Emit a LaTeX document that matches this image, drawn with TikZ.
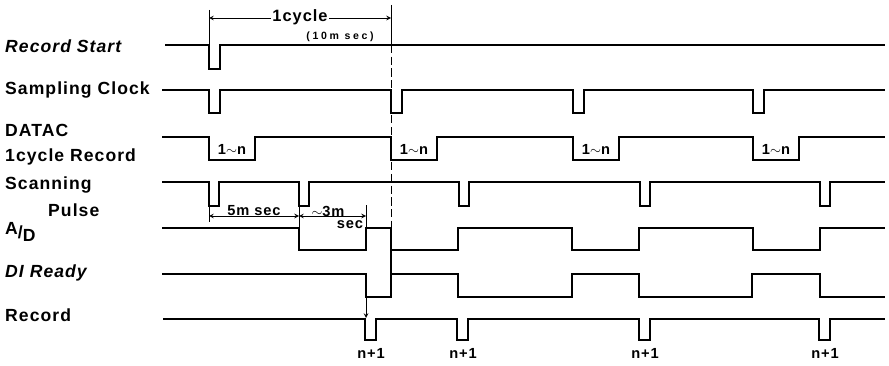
\documentclass[tikz,border=0pt]{standalone}
\usepackage{fontspec}
\setmainfont{Liberation Sans}
\newfontfamily\sigfont[LetterSpace=6]{Liberation Sans}
\newfontfamily\widefont[LetterSpace=25]{Liberation Sans}

\begin{document}
\begin{tikzpicture}[x=0.03cm, y=-0.03cm, >=stealth,
    wave/.style={line width=1.7pt},
    sig/.style={anchor=west, inner sep=0pt, font=\fontsize{15}{17}\sigfont\bfseries},
    tag/.style={inner sep=1pt, font=\fontsize{12.5}{14}\sigfont\bfseries}]
    \useasboundingbox (0,0) rectangle (889,366);

    % Signalnamen
    \node[sig] (rstart) at (5,46) {\itshape Record Start};
    \node[sig] (sclock) at (5,90) {Sampling Clock};
    \node[sig] (datac) at (5,130) {DATAC};
    \node[sig] (crec) at (5,157) {1cycle Record};
    \node[sig] (scan) at (5,185) {Scanning};
    \node[sig] (pulse) at (48,210) {Pulse};
    \node[sig] (ad) at (5,232) {\raisebox{3pt}{A}/\raisebox{-3pt}{D}};
    \node[sig] (dirdy) at (5,273) {\itshape DI Ready};
    \node[sig] (rec) at (5,315) {Record};

    % Record Start
    \draw[wave] (165,45) -- (209,45) -- (209,69) -- (220,69) -- (220,45) -- (885,45);
    % Sampling Clock
    \draw[wave] (162,90) \foreach \p in {209,391,573,753} {
        -- (\p,90) -- (\p,113) -- (\p+11,113) -- (\p+11,90)} -- (885,90);
    % DATAC 1cycle Record
    \draw[wave] (162,137) \foreach \p in {209,391,573,753} {
        -- (\p,137) -- (\p,160) -- (\p+46,160) -- (\p+46,137)} -- (885,137);
    \foreach \p in {209,391,573,753}
        \node[tag] (n\p) at (\p+23,149) {1$\sim$n};
    % Scanning Pulse
    \draw[wave] (162,182) \foreach \p in {209,299,459,640,820} {
        -- (\p,182) -- (\p,206) -- (\p+10,206) -- (\p+10,182)} -- (885,182);
    % A/D
    \draw[wave] (162,228) -- (299,228) -- (299,250) -- (366,250) -- (366,228)
        -- (391,228) -- (391,250) -- (458,250) -- (458,228) -- (572,228)
        -- (572,250) -- (639,250) -- (639,228) -- (753,228) -- (753,250)
        -- (820,250) -- (820,228) -- (885,228);
    % DI Ready
    \draw[wave] (162,274) -- (366,274) -- (366,297) -- (391,297) -- (391,274)
        -- (458,274) -- (458,297) -- (572,297) -- (572,274) -- (639,274)
        -- (639,297) -- (752,297) -- (752,274) -- (820,274) -- (820,297)
        -- (885,297);
    \draw[wave] (391,250) -- (391,274);
    % Record
    \draw[wave] (163,319) \foreach \p in {365,457,639,819} {
        -- (\p,319) -- (\p,340) -- (\p+11,340) -- (\p+11,319)} -- (885,319);
    \foreach \p in {365,457,639,819}
        \node[tag] (r\p) at (\p+6,353) {n+1};

    % 1cycle
    \coordinate (cl) at (209,18);
    \coordinate (cr) at (391,18);
    \draw[thick] (209,10) -- (209,45);
    \draw[thick] (391,5) -- (391,45);
    \draw[thick, dash pattern=on 7pt off 3pt] (391,45) -- (391,228);
    \draw[thick, <->] (cl) -- (cr);
    \node[tag, fill=white, font=\fontsize{14}{16}\sigfont\bfseries] (cyc) at (300,17) {1cycle};
    \node[tag, font=\fontsize{9}{10}\widefont\bfseries] (ms) at (340,37) {(10m sec)};

    % 5m sec / ~3m sec
    \coordinate (a0) at (209,216);
    \coordinate (a1) at (299,216);
    \coordinate (a2) at (366,216);
    \draw[thick] (209,206) -- (209,222);
    \draw[thick] (299,206) -- (299,228);
    \draw[thick] (366,205) -- (366,228);
    \draw[thick, <->] (a0) -- (a1);
    \draw[thick, <->] (a1) -- (a2);
    \node[tag, above=0pt] (five) at (254,217) {5m sec};
    \node[tag, above=0pt] (three) at (328,218) {$\sim$3m};
    \node[tag] (sec) at (350,225) {sec};

    % DI Ready -> Record
    \coordinate (rdy) at (366,297);
    \coordinate (rin) at (366,318);
    \draw[thick, ->] (rdy) -- (rin);
\end{tikzpicture}
\end{document}
